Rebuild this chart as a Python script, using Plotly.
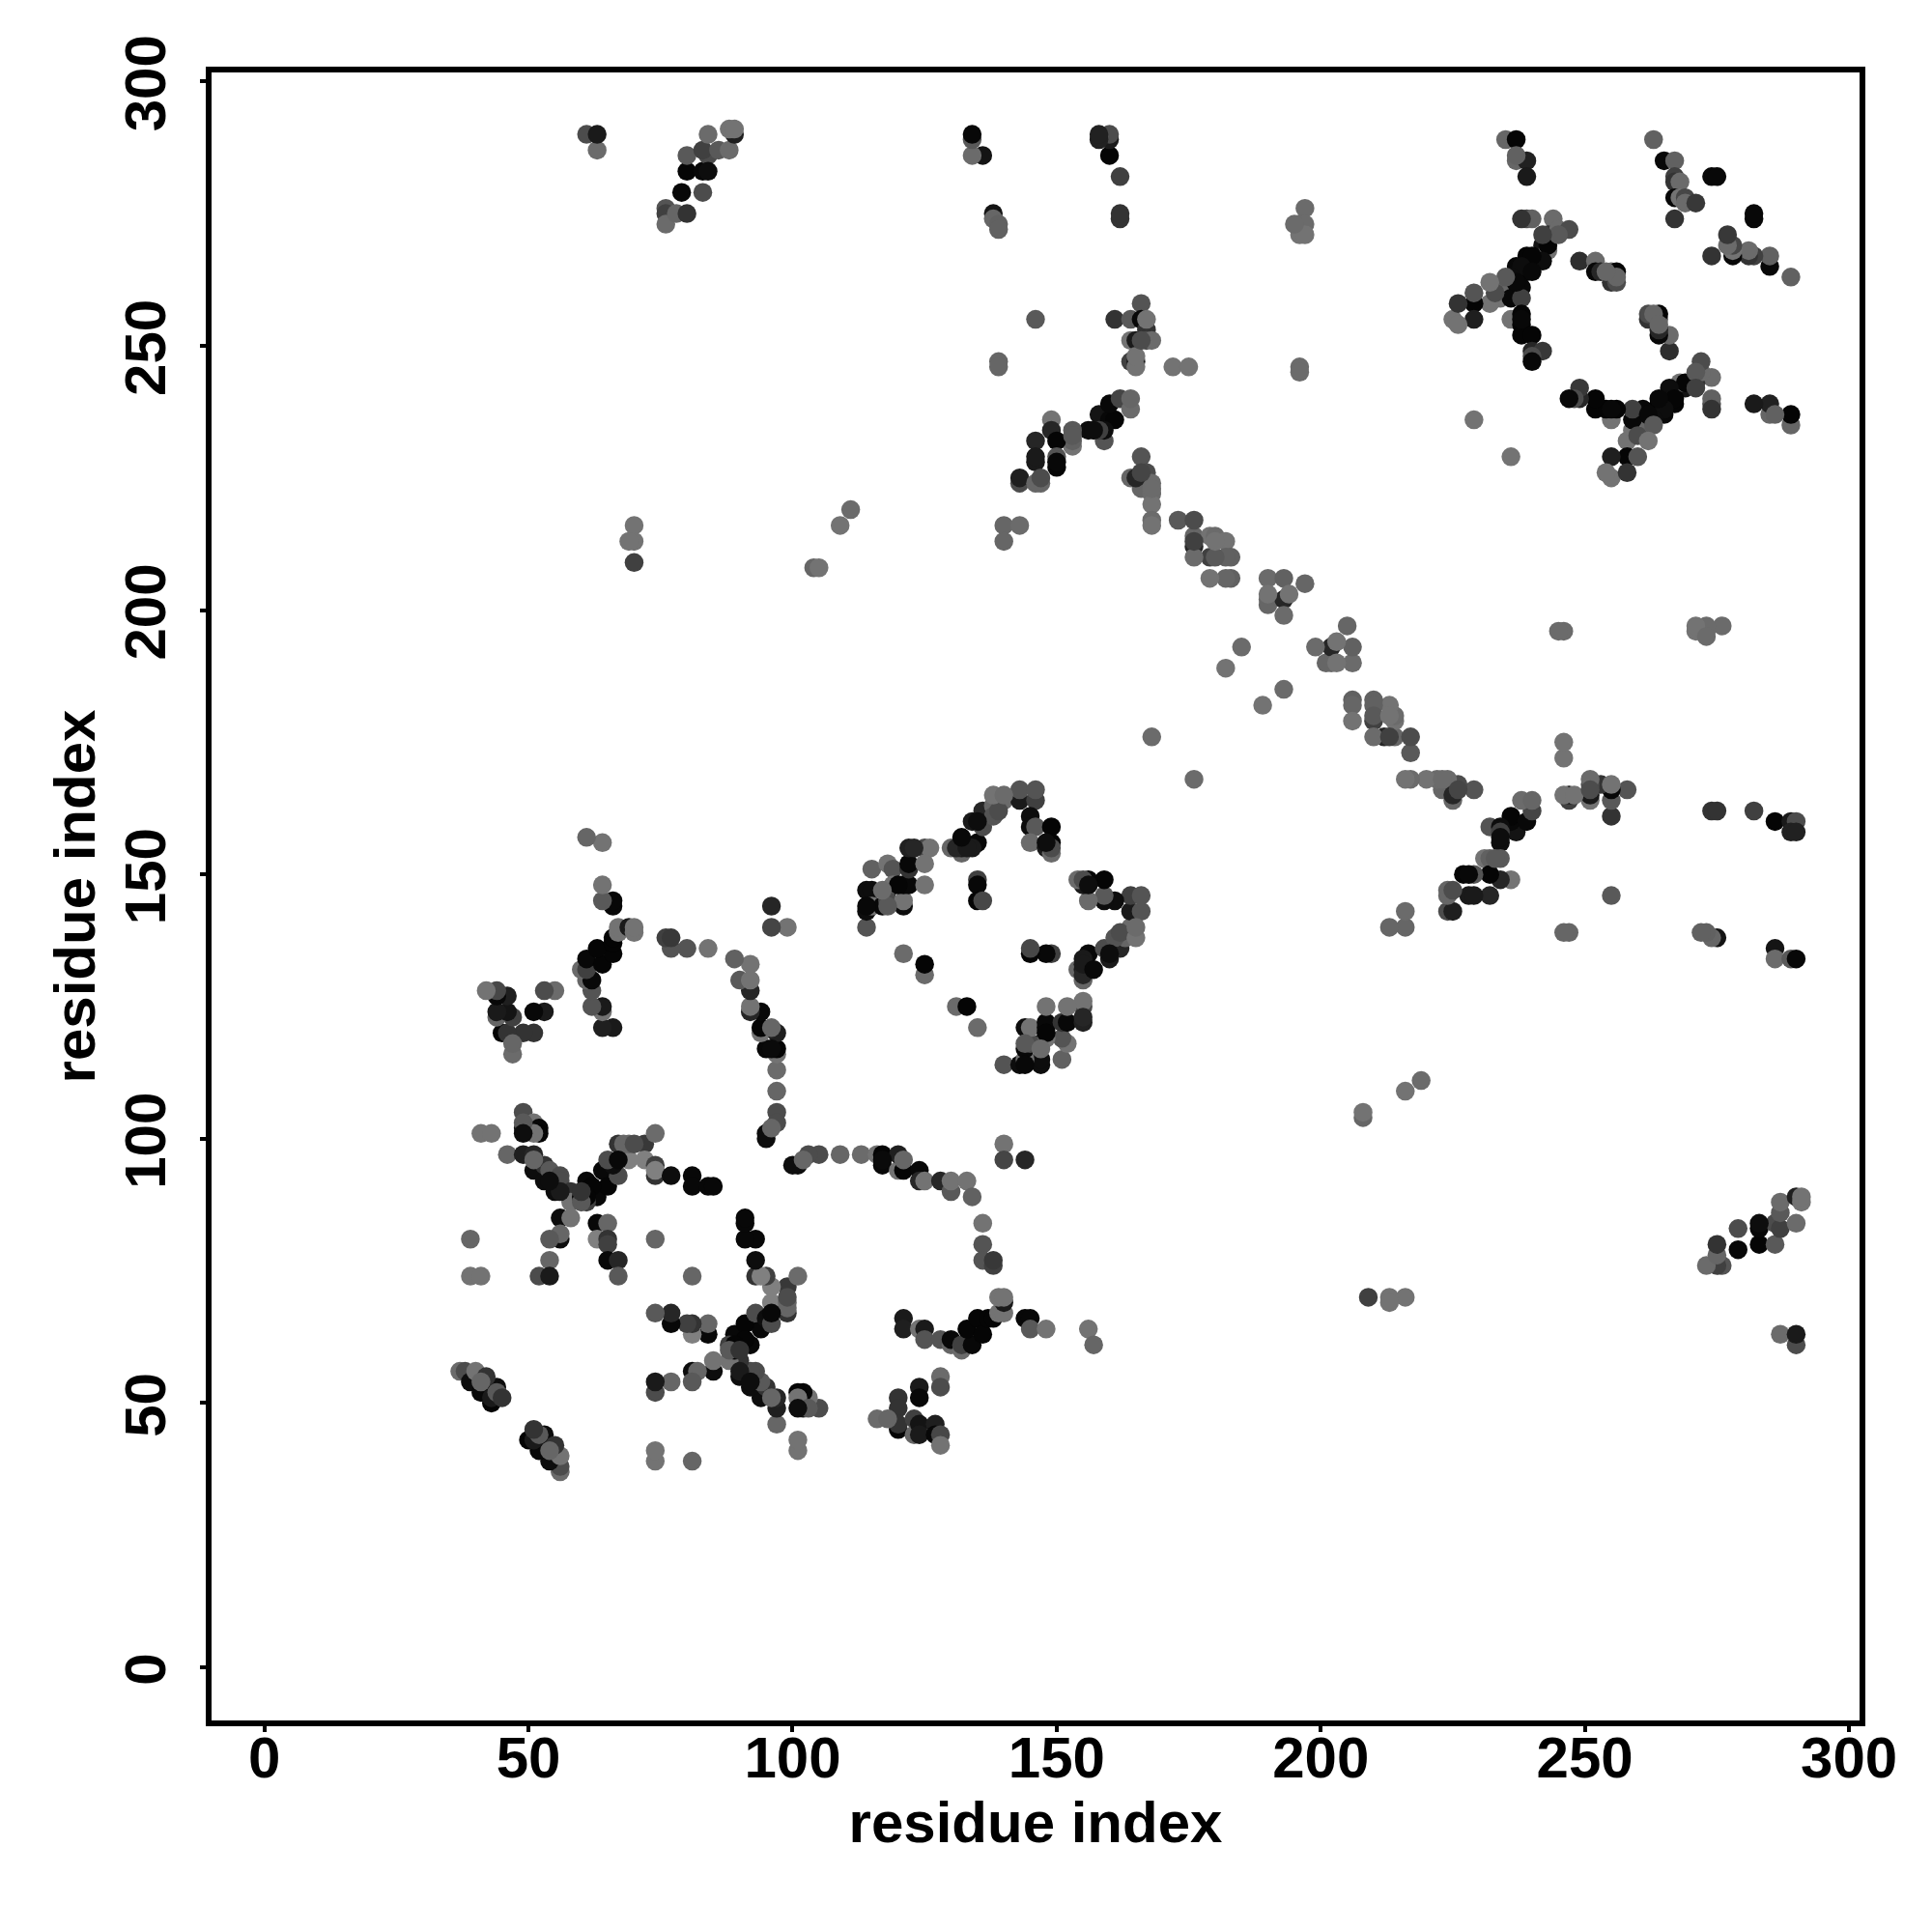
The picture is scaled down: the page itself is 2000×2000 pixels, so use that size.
import plotly.graph_objects as go

# Contacts as (residue, residue, grey level 0=black .. 1=white); the map is symmetric.
contacts_a = [(37,56,.42),(38,56,.3),(39,54,.05),(41,52,.03),(44,53,.05),(43,50,.02),(43,51,.1),(40,56,.45),(42,55,.2),(41,54,.4),(44,52,.35),(45,51,.2),
 (50,43,.02),(51,45,.15),(52,44,.35),(56,37,.4)]
contacts_b = [(49,105,.3),(49,102,.08),(51,103,.45),(52,102,.03),(52,101,.02),(51,101,.45),(41,101,.45),(43,101,.45),(46,97,.4),(49,97,.12),(51,97,.15),
 (51,94,.05),(53,92,.05),(53,95,.2),(54,94,.35),(55,90,.05),(56,93,.3),(56,92,.3),(58,90,.2),(58,88,.45),(103,49,.35),(101,49,.05)]
contacts_c = [(60,89,.02),(61,92,.03),(62,89,.02),(63,89,.03),(64,94,.03),(65,91,.02),(61,88,.25),(67,93,.3),(66,95,.05),(65,96,.3),(67,99,.2),(69,96,.5),(69,99,.4),(72,99,.22),(72,96,.5),
 (74,95,.25),(74,101,.42),(74,93,.2),(74,94,.5),(77,93,.05),(81,93,.03),(81,91,.03),(84,91,.03),(85,91,.03)]
contacts_d = [(56,81,.05),(56,85,.05),(58,85,.45),(56,82,.4),(54,81,.35),(39,81,.4),(63,84,.03),(65,84,.4),(63,81,.5),(65,81,.2),(65,80,.25),(65,77,.03),(67,77,.15),(67,74,.35),
 (74,81,.4),(54,77,.4),(52,74,.3),(54,74,.1),(39,74,.45),(41,74,.45),(81,74,.4)]
contacts_e = [(91,85,.02),(91,84,.02),(91,81,.02),(93,81,.03),(93,77,.05),(93,74,.1),(94,74,.4),(95,74,.25),(101,74,.4),(96,72,.45),(99,72,.15),(99,68,.4),(99,70,.3),(96,69,.5),(96,67,.03),(99,67,.2),
 (93,67,.3),(94,64,.1),(91,65,.03),(89,63,.02),(91,62,.02),(89,61,.02),(88,60,.35),(90,60,.2),(85,58,.45),(88,58,.45),
 (74,67,.4),(77,67,.2),(77,65,.05),(81,65,.15),(84,63,.03),(84,65,.4),(81,63,.45),
 (81,56,.02),(82,56,.35),(85,56,.1),(81,54,.3),(77,54,.42),(74,54,.15),(74,52,.25),
 (90,56,.1),(92,56,.25),(92,54,.05),(95,53,.2),(94,51,.03),(96,51,.4),(97,51,.15),(97,49,.15),(97,46,.42),(101,43,.45),(101,41,.45),(74,41,.45),(74,39,.45),(81,39,.4)]
contacts_f = [(97,113,.42),(97,109,.4),(95,101,.05),(95,100,.05),(97,105,.3),(97,103,.3),(96,102,.4)]
contacts_g = [(101,95,.05),(102,96,.4),(103,97,.35),(105,97,.3),(109,97,.35),(113,97,.42),(116,97,.45),(117,95,.03),(117,97,.02),(120,94,.45),(120,97,.12),(121,94,.02),(121,96,.4),(124,94,.03),(124,92,.15),(125,92,.45),(128,92,.15),(130,90,.35),(130,92,.45),(133,92,.45),(134,89,.38),(136,84,.45),(136,80,.33),(136,77,.33),(138,76,.25),(138,77,.22),
 (140,99,.45),(140,96,.27),(144,96,.15)]
contacts_h = [(121,66,.1),(121,64,.12),(124,64,.45),(125,64,.1),(125,62,.33),(128,62,.33),(130,61,.4),(130,62,.03),(132,60,.42),(132,61,.25),(134,61,.03),(133,64,.02),(135,66,.02),(136,63,.02),(137,66,.02),(138,66,.02),(139,67,.45),(140,67,.45),(140,69,.1),(139,70,.45),(140,70,.45),
 (144,66,.03),(145,66,.03),(145,64,.35),(148,64,.45),(156,64,.45),(157,61,.4)]
contacts_i = [(128,55,.42),(128,53,.3),(124,53,.1),(124,51,.03),(120,51,.2),(120,49,.2),(120,45,.02),(120,46,.2),(116,47,.42),(118,47,.4),
 (123,47,.25),(123,44,.4),(124,46,.08),(124,44,.1),(127,46,.12),(127,44,.03),(128,44,.28),(128,42,.45)]
contacts_j = [(61,157,.4),(64,156,.45),(64,148,.45),(64,145,.4),(66,145,.02),(66,144,.02),(67,139,.45),(69,140,.1),(70,139,.45),(70,140,.45),
 (66,137,.03),(63,136,.02),(66,135,.02),(60,132,.4),(61,134,.02),(61,132,.05),(64,133,.03),(61,130,.45),(62,130,.04),(62,128,.3),(62,125,.4),(64,124,.45),(64,125,.12),(64,121,.12),(66,121,.12),
 (76,138,.27),(77,138,.27),(77,136,.3),(80,136,.33),(84,136,.45),
 (89,134,.35),(92,133,.45),(90,130,.33),(92,130,.45),(92,128,.15),(92,124,.12),(92,125,.45),(94,124,.03),(94,120,.45),(94,121,.03),(96,121,.42),(97,120,.1),(97,116,.45),(96,117,.04),(97,117,.04),
 (96,144,.15),(96,140,.27),(99,140,.45),(114,140,.33)]
contacts_k = [(53,128,.3),(55,128,.45),(51,124,.03),(53,124,.12),(45,120,.3)]
contacts_l = [(114,143,.05),(114,147,.05),(115,147,.05),(115,151,.38),(115,144,.45),(118,152,.45),(119,151,.33),(118,147,.03),(119,148,.45),(117,144,.03),(118,145,.3),(121,144,.05),(121,145,.45),(121,148,.03),(122,148,.03),(122,151,.2),(122,152,.03),(122,155,.13),(125,155,.3),(126,155,.45),(125,152,.45),(125,148,.45),
 (121,135,.42),(125,131,.42),(125,133,.02),(131,125,.42),(133,125,.02),(135,121,.42),(135,149,.25),(135,148,.03),(135,145,.02),(136,145,.28)]
contacts_m = [(130,155,.4),(132,154,.4),(132,156,.05),(132,155,.1),(135,156,.03),(134,155,.1),(134,160,.1),(136,162,.15),(136,159,.3),(138,163,.4),(138,161,.33),(140,164,.42),(143,164,.1),(143,166,.33),(146,164,.25),(146,166,.33),(145,161,.05),(145,159,.05),(146,159,.35),(149,159,.02),(145,156,.42),(148,155,.1),(149,154,.42),(149,156,.02),
 (145,135,.03),(145,136,.25),(148,135,.2),(149,135,.22)]
contacts_n = [(155,149,.3),(156,149,.02),(159,149,.02),(156,148,.05),(156,145,.42),(159,145,.05),(161,145,.05),(164,146,.3),(166,146,.33),(164,143,.08),(166,143,.28),
 (154,132,.45),(155,130,.35),(155,131,.15),(155,133,.1),(157,132,.03),(156,135,.02),(160,134,.1),(160,135,.05),(162,136,.1),(162,139,.3),(165,138,.45),(165,140,.42),
 (155,123,.15),(155,126,.45),(152,122,.03),(151,122,.3),(152,125,.42),(148,120,.02),(148,122,.02),(148,125,.45),(144,121,.15),(145,121,.42),(144,117,.03),(144,118,.35),(147,118,.03),(148,119,.3),(151,119,.33),(152,118,.42),(151,115,.42),(147,114,.08),(147,117,.42),(144,114,.03),(144,115,.42),(140,114,.33),(143,114,.08)]
contacts_o = [(146,255,.35),(161,255,.2),(164,255,.35),(166,258,.33),(166,255,.03),(167,253,.2),(167,255,.45),(164,251,.45),(165,251,.1),(167,251,.3),(168,251,.42),(164,247,.25),(165,247,.1),(165,246,.45),(165,248,.45),(172,246,.45),(175,246,.45),(139,247,.4),(139,246,.4),
 (158,237,.08),(160,236,.03),(161,236,.02),(160,239,.03),(162,240,.27),(164,238,.42),(164,240,.4),(159,232,.33),(159,234,.05),(156,234,.05),(158,234,.25),(153,231,.45),(153,232,.38),(153,234,.35),
 (149,236,.45),(149,234,.15),(150,232,.02),(146,232,.15),(150,227,.02),(150,229,.33),(146,228,.1),(146,229,.1),(143,224,.3),(143,225,.12),(147,224,.4),(146,224,.4),(147,225,.3)]
contacts_p = [(166,229,.33),(166,225,.15),(164,225,.4),(167,226,.3),(166,223,.4),(168,224,.42),(168,222,.42),(168,220,.45),(168,217,.42),(173,217,.35),(176,212,.15),(176,214,.4),(176,217,.3),(179,214,.45),(180,214,.42),(182,213,.45),
 (140,216,.4),(143,216,.42),(140,213,.4),(70,216,.45),(70,213,.45),(69,213,.45),(70,209,.25),(104,208,.4),(105,208,.45),(109,216,.45),(111,219,.42),(229,236,.45),(168,176,.42)]
contacts_q = [(190,206,.42),(193,206,.38),(197,205,.4),(190,202,.42),(190,201,.4),(193,202,.15),(194,203,.45),(193,199,.42),(205,197,.42),(199,193,.4),(202,193,.1),(203,194,.45),(206,193,.4),(202,190,.45),(203,190,.45),(206,190,.4),(193,185,.42),(189,182,.45),
 (206,183,.38),(206,182,.4),(206,179,.45),(210,183,.38),(210,182,.38),(213,182,.45),(210,179,.25),(210,180,.35),(214,180,.38),(213,180,.45),(210,176,.42),(213,176,.25),(214,176,.42),(217,176,.3),(217,173,.35)]
contacts_r = [(223,168,.42),(216,168,.45),(217,168,.45),(220,168,.45),(223,166,.4),(225,165,.15),(226,166,.27),(225,164,.42),(229,166,.35),
 (238,164,.42),(240,164,.45),(240,162,.2),(239,160,.05),(236,161,.03),(237,158,.03),(234,158,.05),(232,159,.3),(234,156,.03),(234,157,.05),(231,153,.42),(233,153,.35),(234,153,.3),
 (228,150,.03),(229,150,.3),(232,150,.03),(234,149,.1),(236,149,.42),(224,147,.4),(225,147,.25),(228,146,.1),(229,146,.1),(232,146,.13),(224,143,.1),(225,143,.12),(216,143,.42),(213,140,.42),(216,140,.42)]
contacts_s = [(246,175,.42),(246,172,.45),(247,164,.25),(251,166,.3),(196,246,.42),(196,245,.42),(197,276,.42),(196,273,.42),(197,273,.42),(196,271,.45),(197,271,.45),(273,195,.42),(255,225,.45),
 (274,162,.2),(275,162,.2),(282,162,.25),(286,160,.02),(289,160,.1),(290,160,.3),(289,158,.13),(290,158,.13),(255,146,.4),(286,136,.08),(286,134,.42),(289,134,.35),(290,134,.03),
 (138,275,.08),(138,274,.4),(139,273,.38),(139,272,.38),(136,286,.1),(160,286,.03)]
contacts_t = [(209,70,.3),(213,70,.38),(213,69,.42),(216,70,.42),
 (76,276,.33),(76,275,.25),(76,273,.42),(78,275,.4),(80,275,.2),(79,279,.03),(83,279,.3),(80,283,.02),(83,283,.03),(80,286,.35),(84,286,.3),(83,287,.25),(84,290,.42),(86,287,.35),(88,287,.42),(89,290,.12),(88,291,.45),(89,291,.45),(84,283,.05),
 (287,63,.42),(290,61,.3),(290,63,.1)]
contacts_u = [(235,289,.4),(237,289,.02),(237,285,.4),(239,285,.13),(239,282,.1),(263,289,.38),(265,285,.03),(267,285,.38),(267,282,.25),(267,281,.2),(268,281,.42),(267,278,.03),(268,278,.45),(269,278,.28),(269,277,.42),(271,277,.22),(267,274,.2),
 (274,282,.03),(275,282,.03),(282,275,.03),(282,274,.03),(277,271,.25),(278,267,.03),(278,268,.45),(277,269,.42),(278,269,.28),(274,267,.2),(281,267,.02),(281,268,.45),(282,267,.25),(285,265,.03),(285,267,.38),(289,263,.38)]
contacts_v = [(239,274,.3),(240,274,.38),(244,274,.42),(243,271,.2),(245,272,.42),(247,272,.3),(242,269,.08),(243,268,.45),(243,269,.02),(239,267,.02),(241,266,.03),(237,265,.03),(238,264,.4),(239,264,.02),(235,262,.4),(236,262,.05),(238,261,.03),(234,260,.4),(234,259,.45),(236,259,.03),(238,259,.25),
 (236,255,.45),(238,256,.02),(238,254,.02),(238,252,.02),(240,252,.02),(240,249,.15),(242,249,.22),(240,248,.3),(240,247,.03)]
contacts_w = [(249,266,.18),(252,266,.42),(252,264,.03),(253,264,.15),(255,264,.42),(255,262,.2),(256,264,.02),(256,262,.3),(262,256,.1),(263,256,.4),(264,256,.02),(262,255,.2),(264,254,.4),(264,252,.1),(266,252,.42),(266,249,.18),
 (272,247,.35),(271,245,.35),(274,244,.42),(268,243,.45),(269,242,.1),(271,242,.25),(266,242,.05),(267,240,.02),(265,238,.05),(264,240,.03),(263,236,.05),(262,237,.03),(263,235,.35),(274,240,.35),(274,238,.2),
 (282,239,.12),(285,239,.18),(285,237,.45),(286,237,.38),(289,237,.03),(289,235,.38)]
contacts_x = [(247,240,.1),(248,240,.4),(249,242,.25),(249,240,.15),(252,240,.03),(252,238,.03),(255,238,.03),(256,238,.03),(259,238,.33),(259,236,.03),(255,236,.45),
 (258,232,.45),(260,233,.3),(262,232,.45),(258,229,.02),(260,229,.33),(255,229,.12),(258,226,.2),(254,226,.45),(255,225,.45)]

tick_values = [0, 50, 100, 150, 200, 250, 300]
axis_label = "residue index"

groups = [contacts_a, contacts_b, contacts_c, contacts_d, contacts_e, contacts_f, contacts_g, contacts_h,
          contacts_i, contacts_j, contacts_k, contacts_l, contacts_m, contacts_n, contacts_o, contacts_p,
          contacts_q, contacts_r, contacts_s, contacts_t, contacts_u, contacts_v, contacts_w, contacts_x]

seen = set()
xs, ys, colors = [], [], []
for group in groups:
    for a, b, g in group:
        key = (min(a, b), max(a, b))
        if key in seen:
            continue
        seen.add(key)
        v = round(g * 255)
        c = f"rgb({v},{v},{v})"
        xs += [a, b]
        ys += [b, a]
        colors += [c, c]

FONT = "Liberation Sans"
TICK_FONT = dict(family=FONT, size=60, color="black")
TITLE_FONT = dict(family=FONT, size=60, color="black")
fig = go.Figure(go.Scatter(x=xs, y=ys, mode="markers", hoverinfo="skip",
                           marker=dict(size=19.5, color=colors, line=dict(width=0))))

axis_style = dict(
    tickmode="array", tickvals=tick_values, ticktext=[f"<b>{t}</b>" for t in tick_values],
    showgrid=False, zeroline=False, showline=True, mirror=True, linecolor="black", linewidth=5.5,
    ticks="outside", ticklen=6, tickwidth=3.5, tickcolor="black", tickfont=TICK_FONT,
)
fig.update_layout(
    width=2000, height=2000, paper_bgcolor="white", plot_bgcolor="white", showlegend=False,
    margin=dict(l=219, r=75, t=75, b=219, pad=0),
    font=dict(family=FONT, color="black"),
)
fig.update_xaxes(range=[-10.0, 302.0], ticklabelstandoff=-25, **axis_style,
                 title=dict(text=f"<b>{axis_label}</b>", font=TITLE_FONT, standoff=12))
fig.update_yaxes(range=[-10.05, 301.7], tickangle=-90, ticklabelstandoff=12, ticklabelshift=11, **axis_style,
                 title=dict(text=f"<b>{axis_label}</b>", font=TITLE_FONT, standoff=1))

fig.write_html("out.html", config={"displayModeBar": False},
               post_script="document.body.style.margin='0';")
